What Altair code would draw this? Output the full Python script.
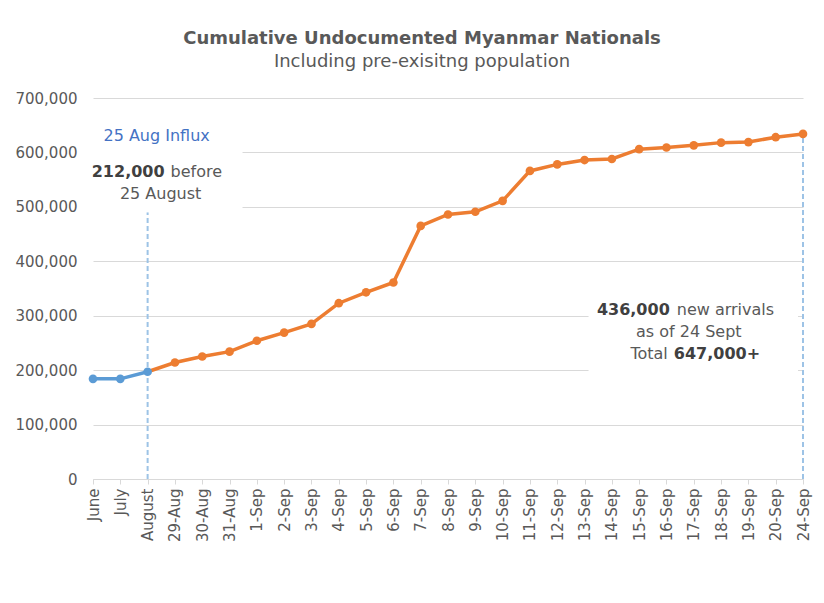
import altair as alt
import pandas as pd

FONT = "DejaVu Sans"
GRAY = "#595959"
DARK = "#404040"
BLUE = "#5B9BD5"
ORANGE = "#ED7D31"
RULE = "#9DC3E6"

categories = ["June", "July", "August", "29-Aug", "30-Aug", "31-Aug",
              "1-Sep", "2-Sep", "3-Sep", "4-Sep", "5-Sep", "6-Sep", "7-Sep",
              "8-Sep", "9-Sep", "10-Sep", "11-Sep", "12-Sep", "13-Sep", "14-Sep",
              "15-Sep", "16-Sep", "17-Sep", "18-Sep", "19-Sep", "20-Sep", "24-Sep"]

values = [184000, 184000, 197000, 214000, 225000, 234000,
          254000, 269000, 285000, 323000, 343000, 361000, 465000,
          486000, 491000, 511000, 566000, 578000, 586000, 588000,
          606000, 609000, 613000, 618000, 619000, 628000, 634000]

y_ticks = [0, 100000, 200000, 300000, 400000, 500000, 600000, 700000]

line_rows = ([{"cat": c, "val": v, "series": "pre"} for c, v in zip(categories[:3], values[:3])] +
             [{"cat": c, "val": v, "series": "post"} for c, v in zip(categories[2:], values[2:])])
line_df = pd.DataFrame(line_rows)
pts_df = pd.DataFrame([{"cat": c, "val": v, "series": ("pre" if i < 3 else "post")}
                       for i, (c, v) in enumerate(zip(categories, values))])

xscale = alt.Scale(domain=categories, type="point", padding=0)
yscale = alt.Scale(domain=[0, 700000])
xaxis = alt.Axis(title=None, labelAngle=270, labelFont=FONT, labelFontSize=15, labelColor=GRAY,
                 domainColor="#d9d9d9", tickColor="#d9d9d9", tickSize=5, labelPadding=4,
                 grid=False)
yaxis = alt.Axis(title=None, values=y_ticks, format=",.0f", labelFont=FONT, labelFontSize=15,
                 labelColor=GRAY, domain=False, ticks=False, labelPadding=16,
                 gridColor="#d9d9d9", gridWidth=1)

X = alt.X("cat:N", sort=None, scale=xscale, axis=xaxis)
Y = alt.Y("val:Q", scale=yscale, axis=yaxis)
color = alt.Color("series:N", scale=alt.Scale(domain=["pre", "post"], range=[BLUE, ORANGE]), legend=None)

# dashed reference rules (August and 24-Sep)
rule_df = pd.DataFrame({"cat": ["August", "24-Sep"], "val": [0, 0], "val2": [490000, 634000]})
rules = alt.Chart(rule_df).mark_rule(color=RULE, strokeWidth=2, strokeDash=[5, 3]).encode(
    x=X, y=Y, y2="val2:Q")

# white annotation boxes
box_df = pd.DataFrame({"cat": ["June", "13-Sep"], "cat2": ["31-Aug", "24-Sep"],
                       "val": [490000, 182000], "val2": [640000, 347000]})
box_left = alt.Chart(box_df.iloc[[0]]).mark_rect(color="white", x2Offset=13).encode(
    x=X, x2="cat2:N", y=Y, y2="val2:Q")
box_right = alt.Chart(box_df.iloc[[1]]).mark_rect(color="white", xOffset=4, x2Offset=-5).encode(
    x=X, x2="cat2:N", y=Y, y2="val2:Q")

lines = alt.Chart(line_df[line_df.series == "post"]).mark_line(strokeWidth=3.5).encode(
    x=X, y=Y, color=color)
pts_post = alt.Chart(pts_df[pts_df.series == "post"]).mark_circle(size=75, opacity=1).encode(
    x=X, y=Y, color=color)
line_pre = alt.Chart(line_df[line_df.series == "pre"]).mark_line(strokeWidth=3.5).encode(
    x=X, y=Y, color=color)
pts_pre = alt.Chart(pts_df[pts_df.series == "pre"]).mark_circle(size=75, opacity=1).encode(
    x=X, y=Y, color=color)


def label(text, cat, val, dx, align="center", bold=False, color=GRAY, size=16):
    d = pd.DataFrame({"cat": [cat], "val": [val], "t": [text]})
    return alt.Chart(d).mark_text(align=align, baseline="alphabetic", dx=dx, fontSize=size,
                                  fontWeight=("bold" if bold else "normal"), font=FONT,
                                  color=color).encode(x=X, y=Y, text="t:N")


labels = [
    label("25 Aug Influx", "August", 621500, 9, color="#4472C4"),
    label("212,000", "August", 555400, 17, align="right", bold=True, color=DARK),
    label("before", "August", 555400, 23, align="left"),
    label("25 August", "August", 514400, 13),
    label("436,000", "17-Sep", 301300, -24, align="right", bold=True, color=DARK),
    label("new arrivals", "17-Sep", 301300, -17, align="left"),
    label("as of 24 Sept", "17-Sep", 260300, -5),
    label("Total", "17-Sep", 220500, -26, align="right"),
    label("647,000+", "17-Sep", 220500, -20, align="left", bold=True, color=DARK),
]

chart = alt.layer(rules, box_left, box_right, lines, pts_post, line_pre, pts_pre, *labels).properties(
    width=710, height=381,
    title=alt.TitleParams(text="Cumulative Undocumented Myanmar Nationals",
                          subtitle="Including pre-exisitng population",
                          font=FONT, subtitleFont=FONT, fontSize=18, subtitleFontSize=18,
                          fontWeight="bold", color=GRAY, subtitleColor=GRAY,
                          anchor="middle", dx=-26, offset=20, subtitlePadding=5),
    autosize=alt.AutoSizeParams(type="none"),
    padding={"left": 85, "top": 90, "right": 13, "bottom": 100},
    background="white",
).configure_view(stroke=None)

chart.save("out.html", embed_options={"renderer": "svg", "actions": False})
